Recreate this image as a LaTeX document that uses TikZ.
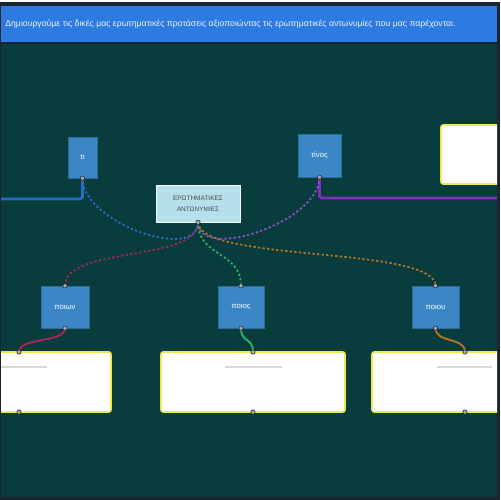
\documentclass[tikz,border=0pt]{standalone}
\usepackage{fontspec}
\setmainfont{Liberation Sans}
\definecolor{bgteal}{RGB}{9,60,60}
\definecolor{hdrblue}{RGB}{45,122,224}
\definecolor{boxblue}{RGB}{59,135,198}
\definecolor{lightbox}{RGB}{182,223,236}
\definecolor{frame}{RGB}{26,37,48}
\definecolor{cblue}{RGB}{34,110,196}
\definecolor{cpurple}{RGB}{128,46,190}
\definecolor{ccrimson}{RGB}{160,38,92}
\definecolor{cgreen}{RGB}{40,180,100}
\definecolor{corange}{RGB}{184,116,36}
\definecolor{ylw}{RGB}{235,235,80}
\tikzset{
  qbox/.style={fill=boxblue, draw=boxblue!80!black, line width=0.2pt, text=white, font=\fontsize{4.4}{5}\selectfont, inner sep=0pt},
  ansbox/.style={fill=white, draw=ylw, line width=0.9pt, rounded corners=1.2pt, inner sep=0pt, minimum height=12mm},
  conn/.style={line width=1pt, dash pattern=on 1.3pt off 1.3pt},
  solidconn/.style={line width=1.1pt},
  dot/.style={fill=gray!70, draw=frame, line width=0.3pt},
}
\begin{document}
\begin{tikzpicture}[x=0.02cm, y=-0.02cm]
\useasboundingbox (0,0) rectangle (500,500);
\fill[white] (0,0) rectangle (500,500);
\fill[frame] (0,2) rectangle (500,500);
\fill[bgteal] (1,44) rectangle (497,497);
\fill[hdrblue] (1,6) rectangle (497,42);
\node[anchor=west, text=white!92!hdrblue, font=\fontsize{4.95}{6}\selectfont, inner sep=0pt] (title) at (5,24) {Δημιουργούμε τις δικές μας ερωτηματικές προτάσεις αξιοποιώντας τις ερωτηματικές αντωνυμίες που μας παρέχονται.};
\begin{scope}
\clip (1,44) rectangle (497,497);
% nodes
\node[qbox, minimum width=5.8mm, minimum height=8.2mm] (ti) at (82.5,157.5) {τι};
\node[qbox, minimum width=8.6mm, minimum height=8.6mm] (tinos) at (319.5,155.5) {τίνος};
\node[fill=lightbox, draw=white!85!lightbox, line width=0.4pt, minimum width=16.8mm, minimum height=7.4mm, inner sep=0pt, align=center, text=gray!60!black, font=\fontsize{3.7}{6}\selectfont] (center) at (198,203.5) {ΕΡΩΤΗΜΑΤΙΚΕΣ\\ΑΝΤΩΝΥΜΙΕΣ};
\node[qbox, minimum width=9.6mm, minimum height=8.4mm] (poion) at (65,307) {ποιων};
\node[qbox, minimum width=9.2mm, minimum height=8.4mm] (poios) at (241,307) {ποιος};
\node[qbox, minimum width=9.4mm, minimum height=8.4mm] (poiou) at (435.5,307) {ποιου};
\node[ansbox, minimum width=23.2mm] (a1) at (53,382) {};
\node[ansbox, minimum width=36.8mm] (a2) at (253,382) {};
\node[ansbox, minimum width=26.6mm] (a3) at (438.5,382) {};
\node[ansbox, minimum width=12.8mm, minimum height=11.8mm] (a0) at (473,154.5) {};
% anchors on answer boxes
\coordinate (a1t) at (19,352); \coordinate (a1b) at (19,412);
\coordinate (a2t) at (253,352); \coordinate (a2b) at (253,412);
\coordinate (a3t) at (465,352); \coordinate (a3b) at (465,412);
\coordinate (lend) at (0,199);
\coordinate (rend) at (500,198);
% grey lines in answer boxes
\draw[gray!30, line width=0.6pt] (0,367) -- (47,367);
\draw[gray!30, line width=0.6pt] (225,367) -- (282,367);
\draw[gray!30, line width=0.6pt] (437,367) -- (492,367);
% solid side connectors
\draw[cblue, line width=1.5pt, rounded corners=1pt] (ti.south) |- (lend);
\draw[cpurple, line width=1.5pt, rounded corners=1pt] (tinos.south) |- (rend);
% dashed connectors
\draw[conn, cblue] (ti.south) .. controls +(0,45) and +(0,40) .. (center.south);
\draw[conn, cpurple!85!white] (tinos.south) .. controls +(0,45) and +(0,40) .. (center.south);
\draw[conn, ccrimson] (center.south) .. controls +(0,40) and +(0,-40) .. (poion.north);
\draw[conn, cgreen] (center.south) .. controls +(0,35) and +(0,-35) .. (poios.north);
\draw[conn, corange] (center.south) .. controls +(0,40) and +(0,-40) .. (poiou.north);
% solid short connectors
\draw[solidconn, ccrimson] (poion.south) .. controls +(0,15) and +(0,-15) .. (a1t);
\draw[solidconn, cgreen] (poios.south) .. controls +(0,15) and +(0,-15) .. (a2t);
\draw[solidconn, corange] (poiou.south) .. controls +(0,15) and +(0,-15) .. (a3t);
% dots
\foreach \p in {ti.south, tinos.south, center.south, poion.north, poion.south, poios.north, poios.south, poiou.north, poiou.south, a1t, a1b, a2t, a2b, a3t, a3b}
  \draw[dot] (\p) circle (2.2);
\end{scope}
\end{tikzpicture}
\end{document}
